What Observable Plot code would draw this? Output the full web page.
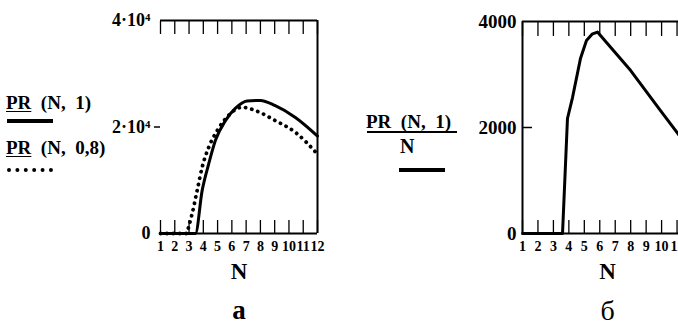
<!DOCTYPE html>
<html><head><meta charset="utf-8">
<script src="https://cdn.jsdelivr.net/npm/d3@7"></script>
<script src="https://cdn.jsdelivr.net/npm/@observablehq/plot@0.6"></script>
<style>
html,body{margin:0;padding:0;background:#fff;overflow:hidden;}
#wrap{position:relative;width:678px;height:331px;overflow:hidden;font-family:"Liberation Serif","Times New Roman",serif;color:#000;}
.panel{position:absolute;top:0;}
.leg{position:absolute;font-weight:bold;font-size:19px;white-space:pre;line-height:1;}
.u{text-decoration:underline;text-decoration-thickness:1px;text-underline-offset:2px;}
.solid{position:absolute;height:0;border-top:4px solid #000;}
.dots{position:absolute;height:0;border-top:4px dotted #000;}
.bar{position:absolute;height:0;border-top:2px solid #000;}
</style></head><body><div id="wrap"></div>
<script>
// ---- data ----
const ticksN = [1,2,3,4,5,6,7,8,9,10,11,12];
const nSolid = [1, 2, 3, 3.45, 3.92, 4.38, 4.85, 5.55, 6.24, 7.06, 8.0, 9.04, 10.45, 12];
const pr1    = [0, 0, 0, 0, 8100, 13100, 17500, 21200, 23500, 24900, 25000, 24000, 21800, 18300];
const nDot   = [1, 2, 2.85, 2.96, 3.22, 3.57, 3.92, 4.38, 4.97, 5.76, 6.71, 7.64, 9.04, 10.45, 12];
const pr08   = [0, 0, 0, 1100, 3750, 8100, 12450, 16200, 19300, 22150, 23700, 23100, 21200, 19000, 14900];
const nRight = [1, 2, 3, 3.59, 3.91, 4.24, 4.75, 5.14, 5.5, 5.85, 8.0, 9.93, 12];
const prPerN = [0, 0, 0, 0, 2170, 2570, 3300, 3640, 3760, 3800, 3075, 2320, 1520];
const yTicksA = [0, 20000, 40000];
const yLabelsA = ["0", "2·10⁴", "4·10⁴"];
const yTicksB = [0, 2000, 4000];
const xTitle = "N";
const labelA = "a";
const labelB = "б";
const legendPR1 = "PR (N, 1)";
const legendPR08 = "(N, 0,8)";

const wrap = document.getElementById("wrap");
const font = "Liberation Serif, Times New Roman, serif";

const dataSolid = nSolid.map((n, i) => ({n, v: pr1[i]}));
const dataDot = nDot.map((n, i) => ({n, v: pr08[i]}));
const dataRight = nRight.map((n, i) => ({n, v: prPerN[i]}));

function frameMarks(ymax, xTicksTopSize) {
  return [
    Plot.axisX({ticks: ticksN, anchor: "bottom", tickSize: -13, tickPadding: 21, strokeWidth: 1.3,
      fontSize: 14, fontWeight: "bold", fontFamily: font, label: null, tickFormat: d => String(d)}),
    Plot.axisX({ticks: ticksN, anchor: "top", tickSize: xTicksTopSize, strokeWidth: 1.3, label: null, tickFormat: () => ""}),
    Plot.ruleY([0], {strokeWidth: 2}),
    Plot.ruleY([ymax], {strokeWidth: 2})
  ];
}

// ---- panel a ----
const plotA = Plot.plot({
  width: 340, height: 331,
  marginLeft: 160, marginRight: 23, marginTop: 20, marginBottom: 98,
  x: {domain: [1, 12], label: null},
  y: {domain: [0, 40000], label: null},
  style: {fontFamily: font, background: "transparent", color: "#000"},
  marks: [
    ...frameMarks(40000, -13),
    Plot.ruleX([12], {strokeWidth: 2}),
    Plot.axisY({ticks: yTicksA, anchor: "left", tickSize: 0, tickPadding: 10, label: null,
      fontSize: 18, fontWeight: "bold", fontFamily: font,
      tickFormat: d => yLabelsA[yTicksA.indexOf(d)]}),
    Plot.axisY({ticks: [20000], anchor: "left", tickSize: 6, strokeWidth: 1.5, label: null, tickFormat: () => ""}),
    Plot.line(dataDot, {x: "n", y: "v", stroke: "#000", strokeWidth: 3.8, strokeDasharray: "0.1 6.3", strokeLinecap: "round", curve: "monotone-x"}),
    Plot.line(dataSolid, {x: "n", y: "v", stroke: "#000", strokeWidth: 3, curve: "monotone-x"}),
    Plot.text([xTitle], {frameAnchor: "bottom", dy: 45, fontSize: 23, fontWeight: "bold", fontFamily: font}),
    Plot.text([labelA], {frameAnchor: "bottom", dy: 85, fontSize: 27, fontWeight: "bold", fontFamily: font})
  ]
});
plotA.classList.add("panel");
plotA.style.left = "0px";
wrap.appendChild(plotA);

// ---- panel б ----
const plotB = Plot.plot({
  width: 378, height: 331,
  marginLeft: 182, marginRight: 26, marginTop: 21, marginBottom: 98,
  x: {domain: [1, 12], label: null},
  y: {domain: [0, 4000], label: null},
  style: {fontFamily: font, background: "transparent", color: "#000"},
  marks: [
    ...frameMarks(4000, -14),
    Plot.ruleX([1], {strokeWidth: 2}),
    Plot.ruleX([12], {strokeWidth: 2}),
    Plot.axisY({ticks: yTicksB, anchor: "left", tickSize: 0, tickPadding: 6, label: null,
      fontSize: 19, fontWeight: "bold", fontFamily: font, tickFormat: d => String(d)}),
    Plot.axisY({ticks: [2000], anchor: "left", tickSize: -10, strokeWidth: 1.5, label: null, tickFormat: () => ""}),
    Plot.line(dataRight, {x: "n", y: "v", stroke: "#000", strokeWidth: 3, curve: "linear"}),
    Plot.text([xTitle], {frameAnchor: "bottom", dy: 45, fontSize: 23, fontWeight: "bold", fontFamily: font}),
    Plot.text([labelB], {frameAnchor: "bottom", dy: 86, fontSize: 28, fontFamily: font})
  ]
});
plotB.classList.add("panel");
plotB.style.left = "340px";
wrap.appendChild(plotB);

// ---- legends ----
function el(cls, css, html) {
  const d = document.createElement("div");
  d.className = cls;
  Object.assign(d.style, css);
  if (html != null) d.innerHTML = html;
  wrap.appendChild(d);
  return d;
}
const pr1Parts = legendPR1.split(" ");
el("leg", {left: "6px", top: "93px"}, `<span class="u">${pr1Parts[0]}</span>  ${pr1Parts.slice(1).join("  ")}`);
el("solid", {left: "7px", top: "119px", width: "46px"});
el("leg", {left: "6px", top: "138px"}, `<span class="u">${pr1Parts[0]}</span>  ${legendPR08.replace(" ", "  ")}`);
el("dots", {left: "7px", top: "168px", width: "46px"});

el("leg", {left: "366px", top: "112px"}, pr1Parts[0] + "  " + pr1Parts.slice(1).join("  "));
el("bar", {left: "367px", top: "131px", width: "90px"});
el("leg", {left: "400px", top: "136px", fontSize: "20px"}, xTitle);
el("solid", {left: "399px", top: "168px", width: "46px"});
</script>
</body></html>
